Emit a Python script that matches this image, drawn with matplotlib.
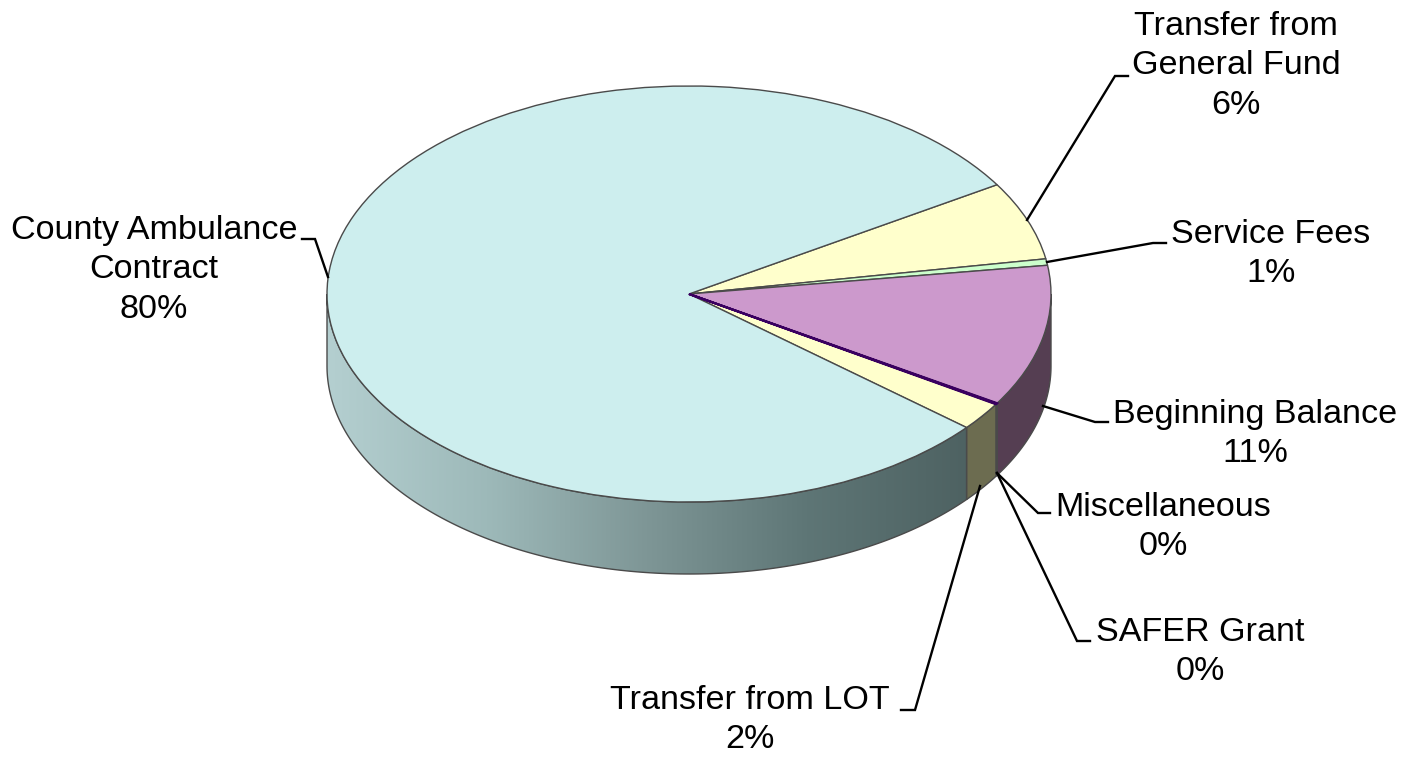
import numpy as np
import matplotlib
matplotlib.use("Agg")
import matplotlib.pyplot as plt
from matplotlib.colors import LinearSegmentedColormap
from matplotlib.patches import Polygon

plt.rcParams['font.family'] = ['Liberation Sans', 'DejaVu Sans']

# slices, clockwise from the top edge of General Fund
names = ["Transfer from\nGeneral Fund", "Service Fees", "Beginning Balance", "Miscellaneous",
         "SAFER Grant", "Transfer from LOT", "County Ambulance\nContract"]
values = [6.1, 0.5, 11.0, 0.05, 0.05, 2.2, 80.1]
shown_pct = [6, 1, 11, 0, 0, 2, 80]
top_colors = ["#FFFFCC", "#CCFFCC", "#CC99CC", "#3A0060", "#3A0060", "#FFFFCC", "#CDEEEE"]
side_colors = ["#6B6B52", "#52665A", "#553E52", "#240038", "#240038", "#6C6C50", None]
side_ramp = ["#B4CFD0", "#9DB9B9", "#7E9696", "#5E7676", "#4E6262"]

# label centres and leader lines, in pixels of the 1416x760 picture
label_xy = [(1236, 66), (1271, 254), (1255, 434), (1163, 527), (1200, 652), (750, 720), (154, 270)]
leaders = [
    [(1027, 220), (1115, 76), (1128, 76)],
    [(1047, 262), (1153, 243), (1166, 243)],
    [(1043, 406), (1095, 422), (1108, 422)],
    [(997, 473), (1038, 513), (1050, 513)],
    [(997, 473), (1077, 641), (1090, 641)],
    [(980, 486), (915, 710), (901, 710)],
    [(328, 277), (315, 239), (302, 239)],
]

W, H = 1416, 760
cx, cy, rx, ry, depth = 689, 294, 362, 208, 72
start_angle = 31.7
edge = "#4A4A4A"

fig = plt.figure(figsize=(W / 100, H / 100), dpi=100)
overlay = fig.add_axes([0, 0, 1, 1], zorder=3)
overlay.set_xlim(0, W)
overlay.set_ylim(H, 0)
overlay.axis("off")

# pie lives in a unit box stretched to the ellipse
ax = fig.add_axes([(cx - rx) / W, (H - cy - ry) / H, 2 * rx / W, 2 * ry / H], zorder=2)
wedges, _ = ax.pie(values, colors=top_colors, startangle=start_angle, counterclock=False, radius=1,
                   wedgeprops=dict(edgecolor=edge, linewidth=1, zorder=5))
for w in wedges:
    w.set_clip_on(False)
# the two near-zero slices show only as a dark purple seam
for w in wedges[3:5]:
    w.set_edgecolor("#3A0060")
    w.set_linewidth(1.5)
    w.set_zorder(6)

# side wall, lower half of the rim only
d = depth / ry
angles = start_angle - np.cumsum([0] + values) * 3.6
for i in range(len(values)):
    a0, a1 = angles[i], angles[i + 1]
    if a1 >= 0:
        continue
    t = np.radians(np.linspace(min(a0, 0), max(a1, -180), 200))
    pts = np.r_[np.c_[np.cos(t), np.sin(t)], np.c_[np.cos(t[::-1]), np.sin(t[::-1]) - d]]
    if side_colors[i] is not None:
        ax.add_patch(Polygon(pts, closed=True, facecolor=side_colors[i], edgecolor=edge, linewidth=1,
                             clip_on=False, zorder=3))
    else:
        patch = Polygon(pts, closed=True, facecolor="none", edgecolor=edge, linewidth=1, clip_on=False, zorder=4)
        ax.add_patch(patch)
        cmap = LinearSegmentedColormap.from_list("side", side_ramp)
        grad = np.linspace(0, 1, 256).reshape(1, -1)
        im = ax.imshow(grad, cmap=cmap, extent=[-1, np.cos(np.radians(a0)), -1 - d, 0],
                       aspect="auto", zorder=3)
        im.set_clip_box(fig.bbox)
        im.set_clip_path(patch)
ax.set_aspect("auto")
ax.set_xlim(-1, 1)
ax.set_ylim(-1, 1)

for line in leaders:
    xs, ys = zip(*line)
    overlay.plot(xs, ys, color="black", lw=1.7, solid_joinstyle="miter")

for name, pct, (x, y) in zip(names, shown_pct, label_xy):
    overlay.text(x, y, f"{name}\n{pct}%", ha="center", va="center", fontsize=24.6,
                 linespacing=1.37, color="black")

fig.savefig("out.png", dpi=100, facecolor="white")
